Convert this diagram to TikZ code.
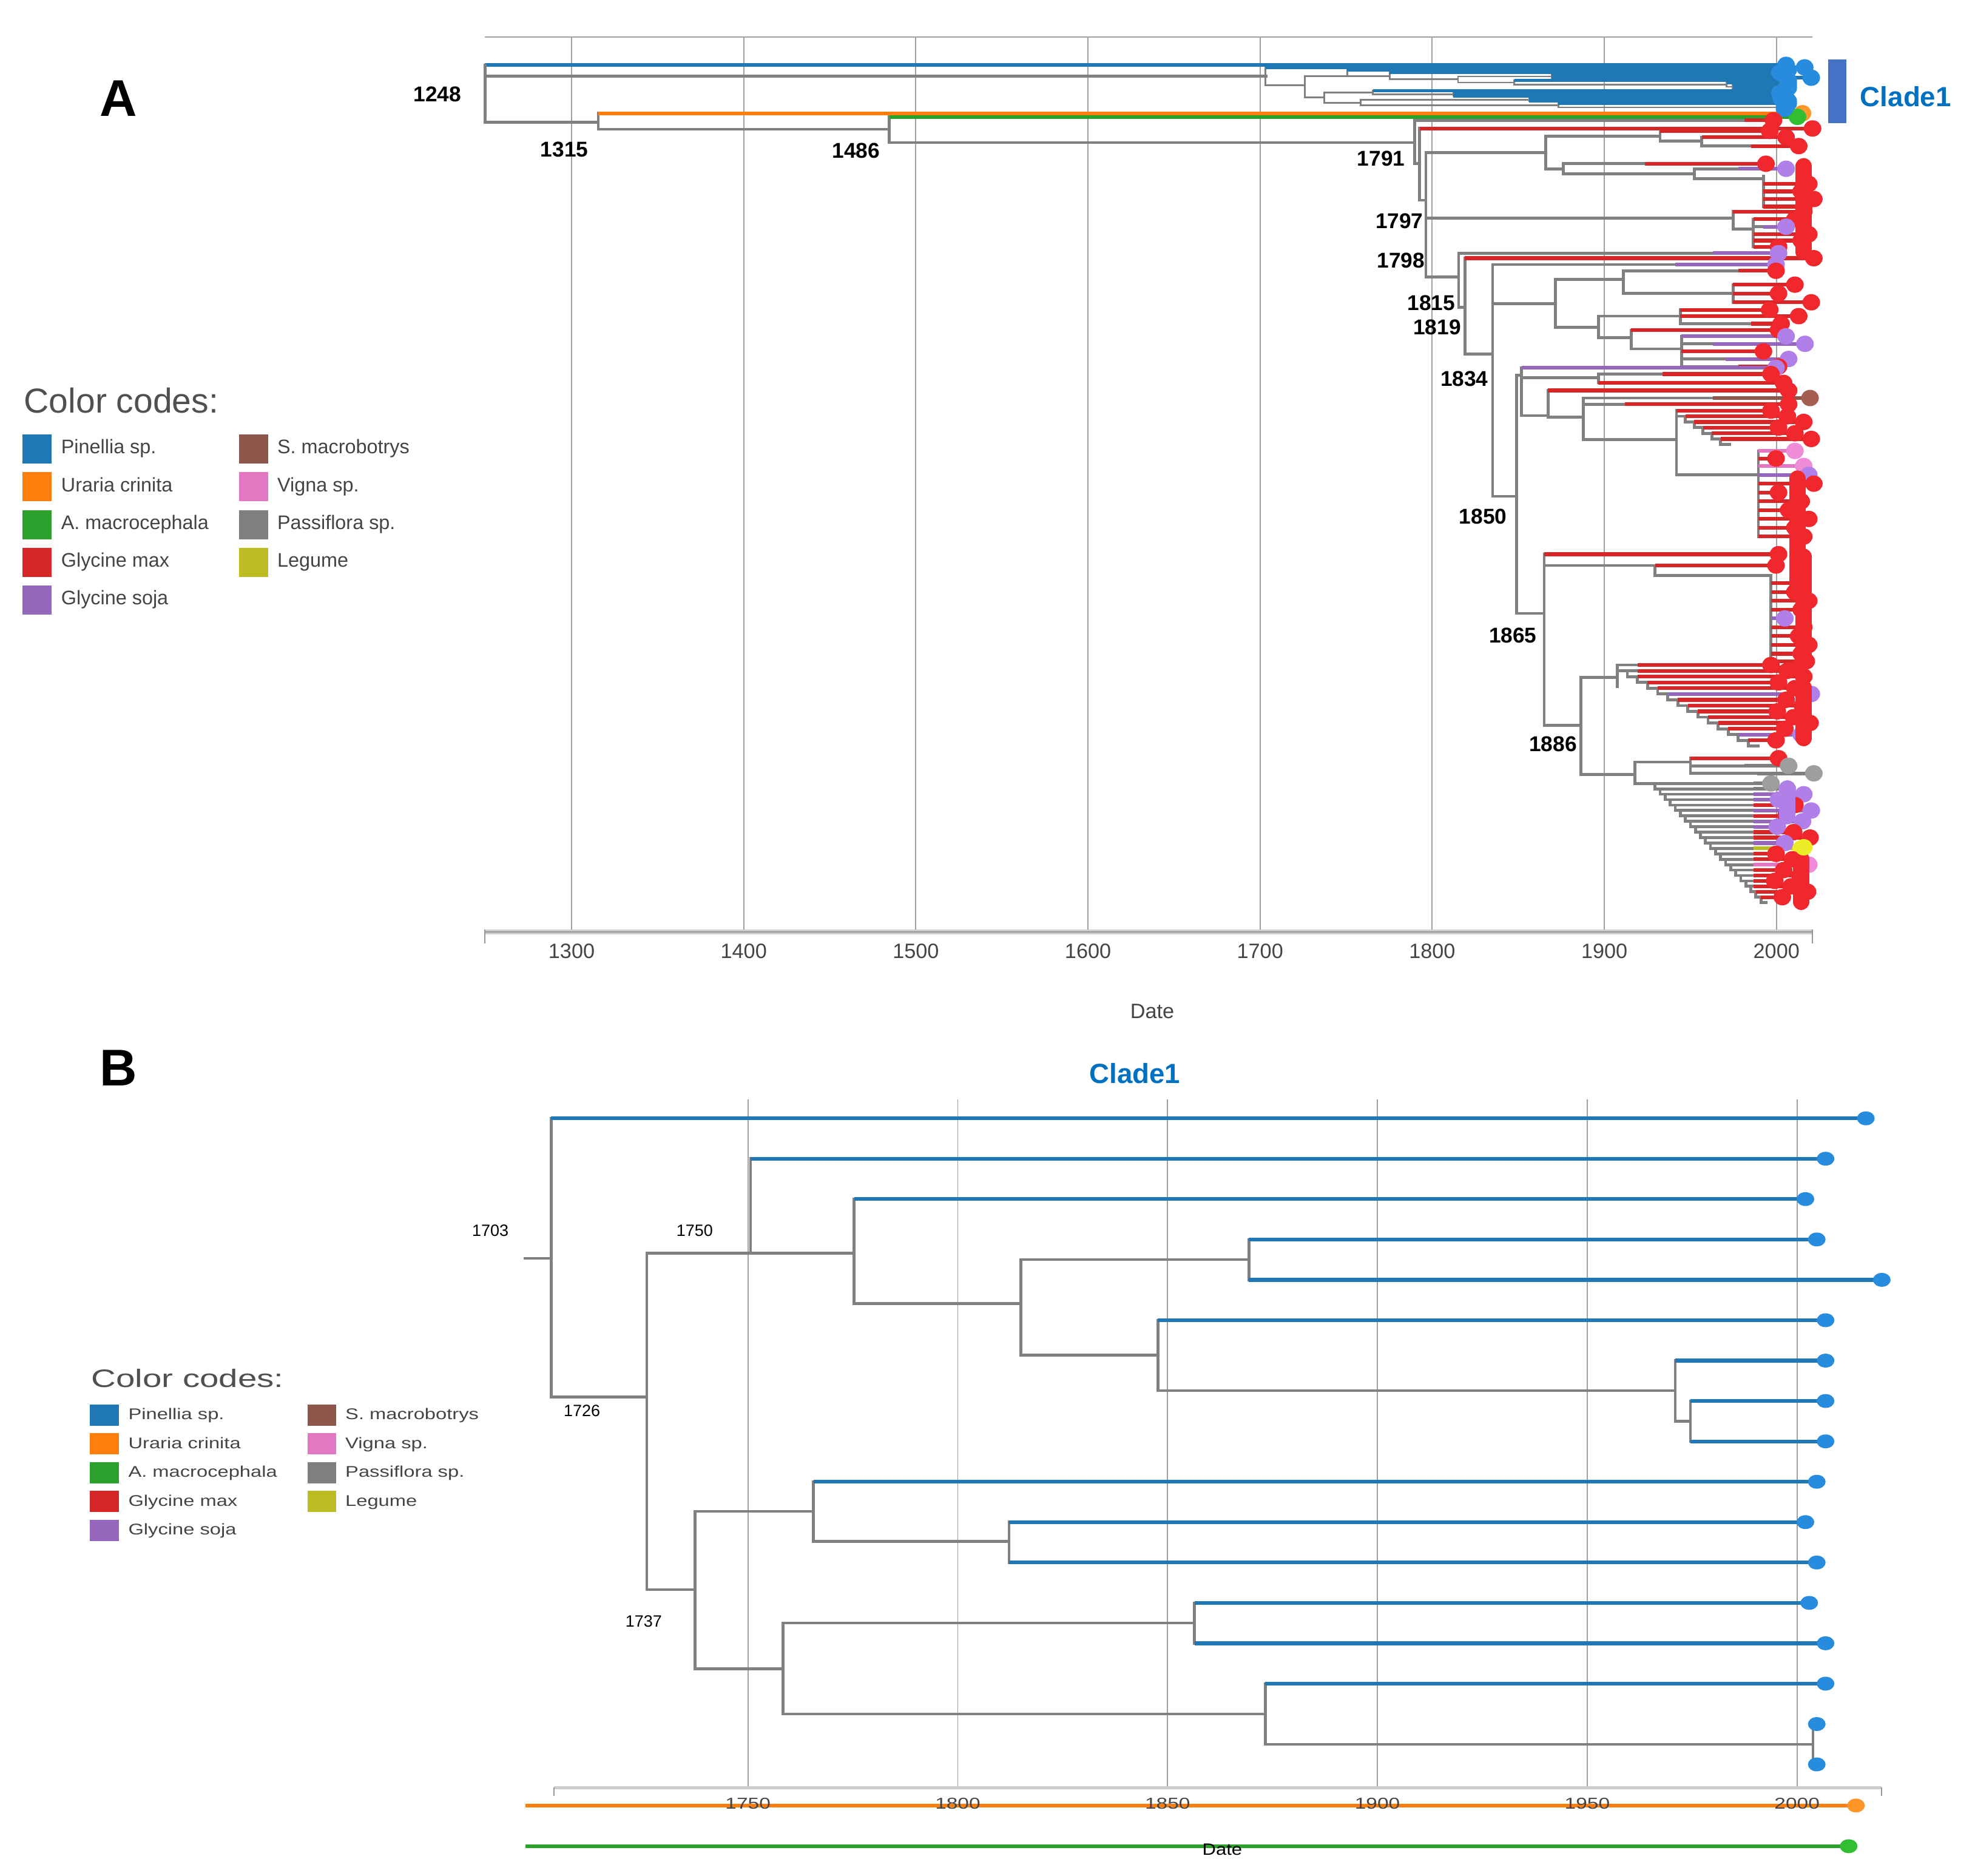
\documentclass[tikz,border=0pt]{standalone}
\usepackage{fontspec}
\setmainfont{Liberation Sans}
\usepackage{graphicx}
\usepackage{tikz}
\usetikzlibrary{backgrounds}
\pgfdeclarelayer{dots}
\pgfsetlayers{background,main,dots}

%=== Colours ===%
\definecolor{treegray}{RGB}{128,128,128}
\definecolor{gridgray}{RGB}{160,160,160}
\definecolor{labgray}{RGB}{68,68,68}
\definecolor{titlegray}{RGB}{80,80,80}
\definecolor{axislight}{RGB}{205,205,205}
\definecolor{axisdark}{RGB}{150,150,150}
\definecolor{cladeblue}{RGB}{0,112,192}
\definecolor{cladebarblue}{RGB}{68,114,196}
% species: L = line / legend, D = tip dot
\definecolor{pinL}{RGB}{31,119,180}    \definecolor{pinD}{RGB}{40,140,222}
\definecolor{uraL}{RGB}{255,127,14}    \definecolor{uraD}{RGB}{255,150,40}
\definecolor{amacL}{RGB}{44,160,44}    \definecolor{amacD}{RGB}{50,190,50}
\definecolor{gmaxL}{RGB}{214,39,40}    \definecolor{gmaxD}{RGB}{240,40,45}
\definecolor{gsojaL}{RGB}{148,103,189} \definecolor{gsojaD}{RGB}{176,128,232}
\definecolor{smacL}{RGB}{140,86,75}    \definecolor{smacD}{RGB}{165,95,80}
\definecolor{vignaL}{RGB}{227,119,194} \definecolor{vignaD}{RGB}{240,140,215}
\definecolor{passiL}{RGB}{127,127,127} \definecolor{passiD}{RGB}{158,158,158}
\definecolor{legumeL}{RGB}{188,189,34} \definecolor{legumeD}{RGB}{236,236,40}

\begin{document}
\begin{tikzpicture}[x=1pt, y=-1pt,
        branch/.style={draw=treegray, line width=2.3pt, line cap=rect},
        tipline/.style={line width=3pt},
        pile/.style={line width=13pt, line cap=round},
        gridline/.style={draw=gridgray, line width=0.9pt},
        ticklab/.style={text=labgray, inner sep=0pt, anchor=base, font=\fontsize{16.5}{19}\selectfont},
        nodelab/.style={inner sep=0pt, font=\bfseries\fontsize{17}{19}\selectfont},
        smalllab/.style={inner sep=0pt, font=\fontsize{13}{15}\selectfont},
        legtext/.style={text=labgray, inner sep=0pt, anchor=base west, font=\fontsize{15.6}{18}\selectfont},
        legtitle/.style={text=titlegray, inner sep=0pt, anchor=base west, font=\fontsize{27.5}{30}\selectfont},
        panel/.style={inner sep=0pt, font=\bfseries\fontsize{41}{45}\selectfont},
        cladelab/.style={text=cladeblue, inner sep=0pt, font=\bfseries\fontsize{22}{26}\selectfont}
    ]

    %=== Tree macros ===%
    \newcommand{\treebar}[3]{\draw[branch] (#1,#2) -- (#1,#3);}
    \newcommand{\treebr}[3]{\draw[branch] (#1,#3) -- (#2,#3);}
    \newcommand{\treeleaf}[5]{
        \draw[branch] (#1,#4) -- (#2,#4);
        \draw[tipline, draw=#5L] (#2,#4) -- (#3,#4);
        \begin{pgfonlayer}{dots}\fill[#5D] (#3,#4) ellipse [x radius=7pt, y radius=6.5pt];\end{pgfonlayer}
    }
    % ladder of tips: x0, dx, y0, dy, colour start, species
    \newcommand{\treecomb}[6]{
        \foreach \kind [count=\i from 0] in {#6}{
            \pgfmathsetmacro{\xn}{#1+\i*#2}
            \pgfmathsetmacro{\yt}{#3+\i*#4}
            \pgfmathsetmacro{\yn}{#3+(\i+1)*#4}
            \pgfmathsetmacro{\xe}{1406+mod(\i*13,33)}
            \pgfmathsetmacro{\xc}{max(\xn,#5)}
            \draw[branch] (\xn,\yt) -- (\xn,\yn) -- ({\xn+#2},\yn);
            \draw[branch] (\xn,\yt) -- (\xc,\yt);
            \draw[tipline, draw=\kind L] (\xc,\yt) -- (\xe,\yt);
            \begin{pgfonlayer}{dots}\fill[\kind D] (\xe,\yt) ellipse [x radius=7pt, y radius=6.5pt];\end{pgfonlayer}
        }
    }
    % Clade1 in date / tip-index units (cx, cy set per panel)
    \newcommand{\cladebar}[3]{\draw[cbranch] ({cx(#1)},{cy(#2)}) -- ({cx(#1)},{cy(#3)});}
    \newcommand{\cladebr}[3]{\draw[cbranch] ({cx(#1)},{cy(#3)}) -- ({cx(#2)},{cy(#3)});}
    \newcommand{\cladetip}[3]{
        \draw[ctip] ({cx(#1)},{cy(#3)}) -- ({cx(#2)},{cy(#3)});
        \begin{pgfonlayer}{dots}\fill[pinD] ({cx(#2)},{cy(#3)}) ellipse [x radius=\drx, y radius=\dry];\end{pgfonlayer}
    }
    \newcommand{\drawclade}{
        \cladebar{1703.1}{0}{6.9}      \cladetip{1703.1}{2016.4}{0}
        \cladebr{1703.1}{1725.9}{6.9}  \cladebar{1725.9}{3.34}{11.67}
        \cladebr{1725.9}{1750.6}{3.34} \cladebar{1750.6}{1}{3.34}
        \cladetip{1750.6}{2006.8}{1}
        \cladebr{1750.6}{1775.3}{3.34} \cladebar{1775.3}{2}{4.59}
        \cladetip{1775.3}{2002}{2}
        \cladebr{1775.3}{1815}{4.59}   \cladebar{1815}{3.5}{5.86}
        \cladebr{1815}{1869.4}{3.5}    \cladebar{1869.4}{3}{4}
        \cladetip{1869.4}{2004.7}{3}   \cladetip{1869.4}{2020.2}{4}
        \cladebr{1815}{1847.7}{5.86}   \cladebar{1847.7}{5}{6.74}
        \cladetip{1847.7}{2006.8}{5}
        \cladebr{1847.7}{1971}{6.74}   \cladebar{1971}{6}{7.5}
        \cladetip{1971}{2006.8}{6}
        \cladebr{1971}{1974.6}{7.5}    \cladebar{1974.6}{7}{8}
        \cladetip{1974.6}{2006.8}{7}   \cladetip{1974.6}{2006.8}{8}
        \cladebr{1725.9}{1737.4}{11.67} \cladebar{1737.4}{9.73}{13.63}
        \cladebr{1737.4}{1765.6}{9.73} \cladebar{1765.6}{9}{10.48}
        \cladetip{1765.6}{2004.7}{9}
        \cladebr{1765.6}{1812.2}{10.48} \cladebar{1812.2}{10}{11}
        \cladetip{1812.2}{2002}{10}    \cladetip{1812.2}{2004.7}{11}
        \cladebr{1737.4}{1758.4}{13.63} \cladebar{1758.4}{12.5}{14.75}
        \cladebr{1758.4}{1856.4}{12.5} \cladebar{1856.4}{12}{13}
        \cladetip{1856.4}{2002.9}{12}  \cladetip{1856.4}{2006.8}{13}
        \cladebr{1758.4}{1873.3}{14.75} \cladebar{1873.3}{14}{15.5}
        \cladetip{1873.3}{2006.8}{14}
        \cladebr{1873.3}{2003.8}{15.5} \cladebar{2003.8}{15}{16}
        \cladetip{2003.8}{2004.7}{15}  \cladetip{2003.8}{2004.7}{16}
    }

    \useasboundingbox (0,0) rectangle (1568,1489);

    %=== Grids ===%
    \begin{scope}[on background layer]
        \fill[white] (0,0) rectangle (1568,1489);
        \foreach \k in {0,...,7}
            \draw[gridline] ({453.8+136.65*\k},29.2) -- ({453.8+136.65*\k},740);
        \draw[gridline] (385,29.2) -- (1439,29.2);
        \foreach \k in {0,...,5}
            \draw[gridline] ({593.8+166.58*\k},873) -- ({593.8+166.58*\k},1419.4);
    \end{scope}

    %=== Panel A ===%
    \node[panel] (panelA) at (94,78) {A};

    % axis
    \draw[draw=axislight, line width=3.6pt] (385,740) -- (1439,740);
    \draw[draw=axisdark, line width=1.2pt] (385,740) -- (1439,740);
    \draw[draw=axisdark, line width=1pt] (385,738) -- (385,749) (1439,738) -- (1439,749);
    \foreach \yr [count=\k from 0] in {1300,1400,...,2000}
        \node[ticklab] (tickA\yr) at ({453.8+136.65*\k},761.1) {\yr};
    \node[ticklab] (dateA) at (914.8,808.4) {Date};

    % root and outgroups
    \treeleaf{385}{385}{1418}{51.5}{pin}
    \treebar{385}{51.5}{97.1}
    \treebr{385}{1005}{60.5}
    \treebr{385}{475}{97.1}
    \treebar{475}{89.9}{102.6}
    \treeleaf{475}{475}{1431}{89.9}{ura}
    \treebr{475}{706}{102.6}
    \treebar{706}{92.8}{113.2}
    \treeleaf{706}{706}{1427}{92.8}{amac}
    \treebr{706}{1123}{113.2}

    % Clade1
    \begin{scope}[declare function={cx(\dd)=453.8+(\dd-1300)*1.3665; cy(\jj)=53.5+\jj*2.05;},
            cbranch/.style={draw=treegray, line width=1.4pt, line cap=rect},
            ctip/.style={draw=pinL, line width=2.6pt}]
        \def\drx{7pt}\def\dry{6.5pt}
        \drawclade
    \end{scope}
    \fill[cladebarblue] (1451.3,47.2) rectangle (1465.8,97.7);
    \node[cladelab] (cladeA) at (1513,76.8) {Clade1};

    % Glycine clade, 1791 to 1798
    \treebar{1123}{95.5}{130}
    \treeleaf{1123}{1385}{1408}{95.5}{gmax}
    \treebr{1123}{1127}{130}
    \treebar{1127}{102}{159}
    \treeleaf{1127}{1127}{1439}{102}{gmax}
    \treebr{1127}{1132}{159}
    \treebar{1132}{121}{220}
    \treebr{1132}{1227}{121}
    \treebar{1227}{108}{134}
    \treebr{1227}{1318}{108}
    \treebar{1318}{104}{112}
    \treeleaf{1318}{1318}{1405}{104}{gmax}
    \treebr{1318}{1351}{112}
    \treebar{1351}{109}{116}
    \treeleaf{1351}{1351}{1418}{109}{gmax}
    \treeleaf{1351}{1390}{1428}{116}{gmax}
    \treebr{1227}{1241}{134}
    \treebar{1241}{130}{138}
    \treeleaf{1241}{1306}{1402}{130}{gmax}
    \treebr{1241}{1345}{138}
    \treebar{1345}{134}{142}
    \treeleaf{1345}{1380}{1418}{134}{gsoja}
    \treebr{1345}{1400}{142}
    \treebar{1400}{140}{164}
    \foreach \yy/\xe in {146/1436,152/1430,158/1440,164/1432}
        {\treeleaf{1400}{1400}{\xe}{\yy}{gmax}}
    \treebr{1132}{1376}{173}
    \treebar{1376}{168}{182}
    \treeleaf{1376}{1376}{1432}{168}{gmax}
    \treebr{1376}{1392}{182}
    \treebar{1392}{174}{196}
    \treeleaf{1392}{1392}{1425}{174}{gmax}
    \treeleaf{1392}{1400}{1418}{180}{gsoja}
    \treeleaf{1392}{1392}{1436}{186}{gmax}
    \treeleaf{1392}{1392}{1430}{191}{gmax}
    \treeleaf{1392}{1392}{1412}{196}{gmax}

    % 1815, 1819, 1834
    \treebr{1132}{1158}{220}
    \treebar{1158}{201}{244}
    \treeleaf{1158}{1360}{1412}{201}{gsoja}
    \treebr{1158}{1163}{244}
    \treebar{1163}{205}{281}
    \treeleaf{1163}{1163}{1440}{205}{gmax}
    \treebr{1163}{1185}{281}
    \treebar{1185}{210}{394}
    \treeleaf{1185}{1330}{1410}{210}{gsoja}
    \treebr{1185}{1235}{241}
    \treebar{1235}{222}{260}
    \treebr{1235}{1289}{222}
    \treebar{1289}{215}{233}
    \treeleaf{1289}{1380}{1410}{215}{gmax}
    \treebr{1289}{1376}{233}
    \treebar{1376}{226}{240}
    \treeleaf{1376}{1376}{1425}{226}{gmax}
    \treeleaf{1376}{1376}{1412}{233}{gmax}
    \treeleaf{1376}{1376}{1438}{240}{gmax}
    \treebr{1235}{1269}{260}
    \treebar{1269}{251}{268}
    \treebr{1269}{1334}{251}
    \treebar{1334}{246}{257}
    \treeleaf{1334}{1334}{1405}{246}{gmax}
    \treeleaf{1334}{1334}{1428}{251}{gmax}
    \treeleaf{1334}{1390}{1414}{257}{gmax}
    \treebr{1269}{1295}{268}
    \treebar{1295}{262}{277}
    \treeleaf{1295}{1295}{1412}{262}{gmax}
    \treebr{1295}{1335}{277}
    \treebar{1335}{267}{291}
    \treeleaf{1335}{1335}{1418}{267}{gsoja}
    \treeleaf{1335}{1360}{1433}{273}{gsoja}
    \treeleaf{1335}{1335}{1400}{279}{gmax}
    \treeleaf{1335}{1370}{1420}{285}{gsoja}
    \treeleaf{1335}{1380}{1412}{291}{gmax}

    % 1850
    \treebr{1185}{1204}{394}
    \treebar{1204}{298}{487}
    \treebar{1208}{292}{330}
    \treebr{1204}{1208}{298}
    \treeleaf{1208}{1208}{1410}{292}{gsoja}
    \treebr{1208}{1269}{300}
    \treebar{1269}{297}{304}
    \treeleaf{1269}{1320}{1406}{297}{gmax}
    \treeleaf{1269}{1269}{1416}{304}{gmax}
    \treebr{1208}{1229}{330}
    \treebar{1229}{310}{331}
    \treeleaf{1229}{1229}{1420}{310}{gmax}
    \treebr{1229}{1257}{331}
    \treebar{1257}{316}{349}
    \treeleaf{1257}{1360}{1437}{316}{smac}
    \treeleaf{1257}{1290}{1420}{321}{gmax}
    \treebr{1257}{1331}{349}
    \treebar{1331}{326}{377}
    \treecomb{1331}{7}{326}{4.5}{1331}{gmax,gmax,gmax,gmax,gmax,gmax}
    \treebr{1331}{1396}{377}
    \treebar{1396}{358}{426}
    \treeleaf{1396}{1396}{1425}{358}{vigna}
    \treeleaf{1396}{1396}{1410}{364}{gmax}
    \treeleaf{1396}{1396}{1432}{370}{vigna}
    \treeleaf{1396}{1396}{1436}{377}{gsoja}
    \foreach \yy/\xe in {384/1440,391/1412,398/1430,405/1420,412/1436,419/1425,426/1432}
        {\treeleaf{1396}{1396}{\xe}{\yy}{gmax}}

    % 1865
    \treebr{1204}{1226}{487}
    \treebar{1226}{440}{576}
    \treeleaf{1226}{1226}{1412}{440}{gmax}
    \treebr{1226}{1314}{449}
    \treebar{1314}{449}{457}
    \treeleaf{1314}{1314}{1410}{449}{gmax}
    \treebr{1314}{1406}{457}
    \treebar{1406}{457}{530}
    \foreach \yy/\xe/\kind in {463/1430/gmax,470/1425/gmax,477/1436/gmax,484/1430/gmax,
            491/1417/gsoja,498/1432/gmax,505/1428/gmax,512/1436/gmax,519/1430/gmax,525/1434/gmax,530/1428/gmax}
        {\treeleaf{1406}{1406}{\xe}{\yy}{\kind}}

    % 1886
    \treebr{1226}{1255}{576}
    \treebar{1255}{538}{615}
    \treebr{1255}{1284}{538}
    \treebar{1284}{528}{545}
    \treecomb{1284}{8}{528}{4.6}{1300}{gmax,gmax,gmax,gmax,gmax,gsoja,gmax,gmax,gmax,gmax,gmax,gmax,gsoja,gmax}
    \treebr{1255}{1298}{615}
    \treebar{1298}{605}{622}
    \treebr{1298}{1342}{605}
    \treebar{1342}{602}{614}
    \treeleaf{1342}{1342}{1412}{602}{gmax}
    \treeleaf{1342}{1385}{1420}{608}{passi}
    \treeleaf{1342}{1395}{1440}{614}{passi}
    \treebr{1298}{1314}{622}
    \treecomb{1314}{4}{622}{4.3}{1392}{passi,passi,gsoja,gsoja,gmax,gsoja,gmax,gsoja,gsoja,gmax,gmax,gsoja,legume,gmax,gmax,vigna,gmax,gmax,gmax,gmax,gmax,gmax}

    % piled-up tip dots
    \begin{pgfonlayer}{dots}
        \draw[pile, draw=gmaxD] (1432,132) -- (1432,200);
        \draw[pile, draw=gmaxD] (1427,380) -- (1427,470);
        \draw[pile, draw=gmaxD] (1432,442) -- (1432,526);
        \draw[pile, draw=gmaxD] (1432,546) -- (1432,586);
        \draw[pile, draw=gsojaD] (1419,626) -- (1419,648);
        \draw[pile, draw=gmaxD] (1430,682) -- (1430,716);
        \fill[legumeD] (1432,672.7) ellipse [x radius=7pt, y radius=6.5pt];
    \end{pgfonlayer}

    % node dates
    \node[nodelab] (d1248) at (347.3,74.7) {1248};
    \node[nodelab] (d1315) at (448,118.8) {1315};
    \node[nodelab] (d1486) at (679.7,119.5) {1486};
    \node[nodelab] (d1791) at (1096.4,126) {1791};
    \node[nodelab] (d1797) at (1111,175.7) {1797};
    \node[nodelab] (d1798) at (1112.2,206.9) {1798};
    \node[nodelab] (d1815) at (1136.3,240.7) {1815};
    \node[nodelab] (d1819) at (1141,260) {1819};
    \node[nodelab] (d1834) at (1162.5,300.9) {1834};
    \node[nodelab] (d1850) at (1177.4,410.2) {1850};
    \node[nodelab] (d1865) at (1201.1,504.3) {1865};
    \node[nodelab] (d1886) at (1233,590.9) {1886};

    % legend
    \node[legtitle] (ccA) at (18.9,327.7) {Color codes:};
    \foreach \kind/\name [count=\r from 0] in {pin/Pinellia sp., ura/Uraria crinita,
            amac/A. macrocephala, gmax/Glycine max, gsoja/Glycine soja}{
        \fill[\kind L] (18,{345+30*\r}) rectangle (41,{368+30*\r});
        \node[legtext] (legA\kind) at (48.4,{360.2+30*\r}) {\name};
    }
    \foreach \kind/\name [count=\r from 0] in {smac/S. macrobotrys, vigna/Vigna sp.,
            passi/Passiflora sp., legume/Legume}{
        \fill[\kind L] (190,{345+30*\r}) rectangle (213,{368+30*\r});
        \node[legtext] (legA\kind) at (220,{360.2+30*\r}) {\name};
    }

    %=== Panel B ===%
    \node[panel] (panelB) at (94,848) {B};
    \node[cladelab] (cladeB) at (901,852) {Clade1};

    % axis and the two outgroups
    \draw[draw=axislight, line width=2.2pt] (439.8,1419.4) -- (1494,1419.4);
    \draw[draw=axisdark, line width=0.9pt] (439.8,1419) -- (439.8,1426) (1494,1419) -- (1494,1426);
    \draw[tipline, draw=uraL] (417.2,1433.5) -- (1473.5,1433.5);
    \fill[uraD] (1473.5,1433.5) ellipse [x radius=7pt, y radius=5.5pt];
    \draw[tipline, draw=amacL] (417.2,1465.8) -- (1467.7,1465.8);
    \fill[amacD] (1467.7,1465.8) ellipse [x radius=7pt, y radius=5.5pt];
    \foreach \yr [count=\k from 0] in {1750,1800,...,2000}
        \node[ticklab, font=\fontsize{12.5}{15}\selectfont] (tickB\yr) at ({593.8+166.58*\k},1436.3) {\scalebox{1.29}[1]{\yr}};
    \node[ticklab, text=black, font=\fontsize{13}{15}\selectfont] (dateB) at (970.4,1473) {\scalebox{1.15}[1]{Date}};

    % Clade1 enlarged
    \begin{scope}[declare function={cx(\dd)=593.8+(\dd-1750)*3.3316; cy(\jj)=887.9+\jj*32.06;},
            cbranch/.style={draw=treegray, line width=2.2pt, line cap=rect},
            ctip/.style={draw=pinL, line width=3pt}]
        \def\drx{7pt}\def\dry{5.5pt}
        \draw[cbranch] (416.6,999) -- ({cx(1703.1)},999);
        \drawclade
    \end{scope}
    \node[smalllab] (d1703) at (389.3,976.9) {1703};
    \node[smalllab] (d1750) at (551.5,976.9) {1750};
    \node[smalllab] (d1726) at (462,1120) {1726};
    \node[smalllab] (d1737) at (511,1287) {1737};

    % legend
    \node[legtitle, font=\fontsize{20}{24}\selectfont] (ccB) at (72.3,1101.5) {\scalebox{1.36}[1]{Color codes:}};
    \foreach \kind/\name [count=\r from 0] in {pin/Pinellia sp., ura/Uraria crinita,
            amac/A. macrocephala, gmax/Glycine max, gsoja/Glycine soja}{
        \fill[\kind L] (71.2,{1115.1+22.85*\r}) rectangle (94.3,{1132+22.85*\r});
        \node[legtext, font=\fontsize{12.3}{15}\selectfont] (legB\kind) at (101.7,{1127.2+22.85*\r}) {\scalebox{1.28}[1]{\name}};
    }
    \foreach \kind/\name [count=\r from 0] in {smac/S. macrobotrys, vigna/Vigna sp.,
            passi/Passiflora sp., legume/Legume}{
        \fill[\kind L] (244,{1115.1+22.85*\r}) rectangle (267,{1132+22.85*\r});
        \node[legtext, font=\fontsize{12.3}{15}\selectfont] (legB\kind) at (274,{1127.2+22.85*\r}) {\scalebox{1.28}[1]{\name}};
    }
\end{tikzpicture}
\end{document}
